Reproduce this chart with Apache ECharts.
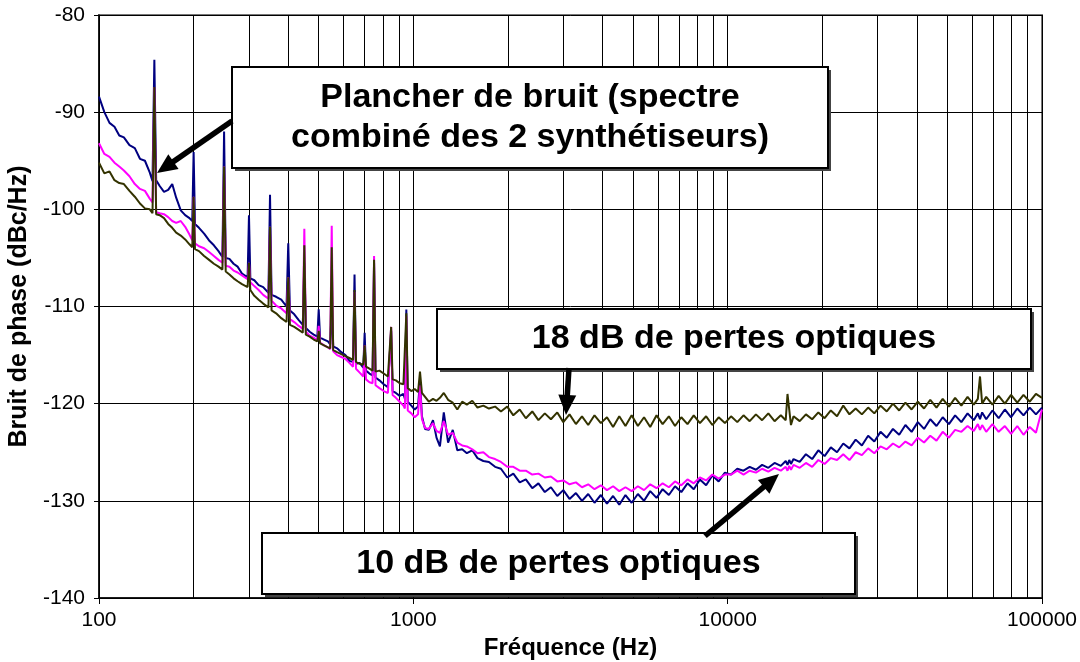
<!DOCTYPE html>
<html>
<head>
<meta charset="utf-8">
<title>Bruit de phase</title>
<script src="https://cdn.jsdelivr.net/npm/echarts@6/dist/echarts.min.js"></script>
<style>
  html, body { margin: 0; padding: 0; background: #fff; }
  #chart { width: 1080px; height: 662px; }
</style>
</head>
<body>
<div id="chart"></div>
<script>
// frequency grid (Hz) where the curves were read
var freqs = [
  100, 104, 108, 112, 116, 120, 125, 130, 135, 140,
  145, 148, 150, 152, 156, 161, 166, 171, 176, 182,
  188, 194, 198, 200, 202, 208, 216, 224, 232, 240,
  247, 250, 253, 260, 268, 276, 285, 297, 300, 303,
  312, 322, 333, 346, 350, 354, 366, 380, 395, 400,
  405, 418, 432, 445, 450, 455, 468, 482, 495, 500,
  505, 520, 535, 544, 550, 556, 572, 590, 608, 626,
  643, 650, 657, 675, 693, 700, 707, 725, 742, 750,
  758, 780, 805, 830, 841, 850, 859, 880, 905, 930,
  940, 950, 960, 985,
  1010, 1035, 1050, 1065, 1090, 1120, 1155, 1185, 1215, 1250,
  1290, 1335, 1380, 1430, 1480, 1540, 1600, 1670, 1740, 1820,
  1900, 1990, 2080, 2180, 2280, 2390, 2500, 2620, 2740, 2870,
  3000, 3140, 3290, 3440, 3600, 3770, 3950, 4130, 4320, 4520,
  4730, 4950, 5180, 5420, 5670, 5940, 6210, 6500, 6800, 7120,
  7450, 7800, 8160, 8540, 8940, 9360, 9800,
  10250, 10730, 11230, 11750, 12300, 12870, 13470, 14100, 14760, 15300,
  15500, 15700, 15900, 16200, 16950, 17740, 18570, 19430, 20340, 21290,
  22280, 23320, 24400, 25540, 26730, 27980, 29280, 30640, 32070, 33560,
  35130, 36770, 38480, 40270, 42150, 44110, 46170, 48320, 50570, 52920,
  55390, 57970, 60670, 62500, 63500, 64500, 66450, 69550, 72790, 76180,
  79730, 83440, 87330, 91400, 95660, 100000
];

// bleu marine
var navyValues = [
  -88.4, -90.0, -91.1, -91.5, -92.4, -92.6, -93.4, -93.7, -94.8, -95.0,
  -96.2, -97.1, -84.6, -97.0, -97.6, -98.2, -98.0, -97.4, -98.8, -100.1,
  -100.6, -100.9, -101.2, -94.1, -101.5, -101.9, -102.5, -103.2, -103.7, -104.3,
  -104.9, -92.0, -105.0, -105.1, -105.6, -105.9, -106.6, -107.0, -100.6, -107.1,
  -107.3, -107.8, -108.0, -108.6, -98.5, -108.8, -109.0, -109.3, -110.0, -103.5,
  -110.4, -110.8, -111.4, -111.9, -105.5, -112.2, -112.6, -112.9, -113.1, -110.3,
  -113.2, -113.4, -113.6, -113.9, -110.0, -114.1, -114.3, -114.7, -115.0, -115.6,
  -115.7, -106.7, -115.9, -115.8, -116.3, -112.7, -116.6, -116.9, -117.1, -105.5,
  -117.3, -117.6, -118.0, -118.3, -118.5, -112.5, -118.7, -118.9, -119.2, -119.0,
  -119.5, -110.3, -119.8, -120.2,
  -120.6, -120.3, -117.6, -121.3, -122.6, -122.7, -121.7, -123.5, -124.4, -120.9,
  -124.0, -122.7, -124.8, -124.7, -125.1, -124.8, -125.6, -125.9, -126.0, -126.5,
  -126.7, -127.6, -127.2, -128.1, -127.8, -128.7, -128.2, -129.1, -128.6, -129.5,
  -128.9, -129.8, -129.2, -130.0, -129.3, -130.2, -129.4, -130.3, -129.5, -130.4,
  -129.4, -130.2, -129.3, -130.0, -129.0, -129.7, -128.8, -129.4, -128.5, -129.1,
  -128.2, -128.8, -127.8, -128.4, -127.4, -128.0, -127.1,
  -127.3, -126.7, -126.9, -126.5, -126.8, -126.3, -126.6, -126.1, -126.4, -125.9,
  -126.3, -125.8, -126.2, -125.7, -126.0, -125.2, -125.7, -124.8, -125.4, -124.5,
  -125.0, -124.1, -124.6, -123.7, -124.3, -123.3, -123.9, -122.9, -123.5, -122.6,
  -123.2, -122.2, -122.9, -121.9, -122.6, -121.6, -122.3, -121.4, -122.1, -121.2,
  -121.9, -121.0, -121.7, -121.0, -121.6, -120.9, -121.6, -120.7, -121.5, -120.6,
  -121.4, -120.5, -121.2, -120.4, -121.1, -120.4
];

// magenta
var magentaValues = [
  -93.2, -94.3, -94.6, -95.2, -95.6, -96.0, -96.6, -97.4, -97.9, -98.1,
  -98.9, -99.3, -87.4, -100.3, -100.4, -100.5, -100.8, -101.2, -101.4, -101.2,
  -101.8, -102.6, -103.2, -98.7, -103.5, -103.8, -104.0, -104.4, -104.8, -105.2,
  -105.5, -95.6, -105.8, -105.9, -106.3, -106.5, -106.8, -107.2, -105.5, -107.5,
  -107.9, -108.3, -108.8, -109.2, -101.8, -109.4, -109.9, -110.2, -110.7, -107.0,
  -111.3, -111.6, -112.0, -112.3, -102.0, -112.6, -113.0, -113.2, -113.5, -112.0,
  -113.7, -114.0, -114.2, -114.4, -101.7, -114.6, -115.0, -115.2, -115.4, -115.8,
  -116.2, -108.5, -116.4, -116.8, -117.2, -114.0, -117.5, -117.8, -117.9, -104.8,
  -118.1, -118.4, -118.7, -118.9, -119.0, -112.1, -119.1, -119.4, -119.8, -120.2,
  -120.5, -111.0, -120.7, -121.0,
  -121.4, -121.1, -118.1, -121.6, -122.5, -122.6, -122.0, -122.8, -123.0, -121.8,
  -123.2, -123.0, -124.0, -124.3, -124.4, -124.7, -125.1, -125.0, -125.5, -125.7,
  -126.0, -126.5, -126.5, -126.9, -126.9, -127.3, -127.2, -127.6, -127.5, -128.0,
  -127.9, -128.3, -128.1, -128.6, -128.3, -128.8, -128.4, -128.9, -128.5, -129.0,
  -128.6, -129.0, -128.5, -128.9, -128.3, -128.7, -128.2, -128.6, -128.0, -128.4,
  -127.8, -128.2, -127.6, -127.9, -127.3, -127.7, -127.3,
  -127.3, -126.9, -127.3, -126.9, -127.1, -126.7, -127.0, -126.6, -126.9, -126.5,
  -126.9, -126.4, -126.8, -126.3, -126.6, -126.1, -126.5, -125.8, -126.2, -125.6,
  -125.8, -125.2, -125.8, -125.0, -125.3, -124.6, -125.1, -124.4, -124.7, -124.1,
  -124.5, -123.9, -124.3, -123.5, -124.0, -123.3, -123.8, -122.9, -123.5, -122.7,
  -122.9, -122.3, -122.8, -122.1, -122.7, -122.2, -122.9, -122.1, -122.9, -122.3,
  -123.1, -122.3, -123.2, -122.4, -123.0, -120.6
];

// vert olive foncé
var oliveValues = [
  -95.2, -96.3, -96.1, -97.0, -97.3, -97.4, -98.1, -98.7, -99.4, -99.9,
  -100.0, -100.4, -87.4, -100.5, -100.6, -100.9, -101.5, -101.9, -102.4, -102.7,
  -103.1, -103.6, -103.9, -98.7, -104.1, -104.3, -104.8, -105.2, -105.6, -105.9,
  -106.2, -95.6, -106.4, -106.7, -107.1, -107.4, -107.7, -108.0, -105.5, -108.3,
  -108.9, -109.3, -109.7, -110.1, -101.8, -110.4, -110.7, -111.2, -111.6, -107.0,
  -111.9, -112.1, -112.4, -112.7, -103.7, -112.9, -113.1, -113.4, -113.6, -112.5,
  -113.8, -114.0, -114.2, -114.3, -103.9, -114.5, -114.7, -114.9, -115.1, -115.3,
  -115.5, -108.3, -115.7, -115.9, -116.0, -114.0, -116.2, -116.4, -116.6, -105.2,
  -116.7, -116.6, -116.9, -117.2, -117.4, -112.1, -117.5, -117.6, -117.9, -118.0,
  -118.2, -110.7, -118.4, -118.7,
  -118.5, -118.8, -116.7, -118.9, -119.3, -119.8, -119.5, -119.7, -119.4, -118.9,
  -119.6, -119.9, -120.6, -119.8, -120.1, -119.7, -120.4, -120.2, -120.5, -120.3,
  -120.8, -120.3, -121.2, -120.6, -121.5, -120.8, -121.7, -121.0, -121.6, -120.9,
  -121.9, -121.1, -122.1, -121.3, -122.2, -121.2, -122.0, -121.4, -122.4, -121.3,
  -122.3, -121.2, -122.3, -121.4, -122.4, -121.2, -122.1, -121.3, -122.3, -121.4,
  -122.1, -121.2, -122.0, -121.3, -122.2, -121.4, -122.0,
  -121.3, -121.9, -121.2, -121.8, -121.1, -121.7, -121.0, -121.8, -121.2, -121.7,
  -119.0, -118.8, -122.2, -121.3, -121.8, -121.1, -121.6, -120.9, -121.5, -120.7,
  -121.3, -120.2, -121.1, -120.5, -121.1, -120.4, -121.0, -120.2, -120.8, -120.0,
  -120.7, -119.9, -120.6, -119.8, -120.5, -119.6, -120.4, -119.5, -120.3, -119.4,
  -120.2, -119.3, -120.1, -119.5, -117.2, -120.0, -119.3, -120.1, -119.2, -120.0,
  -119.1, -119.9, -119.1, -119.8, -119.0, -119.4
];

// lignes verticales secondaires (2..9 x 10^n)
var minorFreqs = [
  200, 300, 400, 500, 600, 700, 800, 900,
  2000, 3000, 4000, 5000, 6000, 7000, 8000, 9000,
  20000, 30000, 40000, 50000, 60000, 70000, 80000, 90000
];

var FONT = '"Liberation Sans", Arial, sans-serif';

function pairs(values) {
  return freqs.map(function (f, i) { return [f, values[i]]; });
}

// boite avec ombre + texte
function labelBox(x, y, w, h, text) {
  return [
    { type: 'rect', shape: { x: x + 3, y: y + 3, width: w, height: h }, style: { fill: '#444' }, z: 20 },
    { type: 'rect', shape: { x: x, y: y, width: w, height: h }, style: { fill: '#fff', stroke: '#000', lineWidth: 2 }, z: 21 },
    {
      type: 'text', z: 22,
      style: {
        x: x + w / 2, y: y + h / 2, text: text,
        font: 'bold 34px ' + FONT, fill: '#000',
        textAlign: 'center', textVerticalAlign: 'middle', verticalAlign: 'middle',
        lineHeight: 40
      }
    }
  ];
}

// fleche noire
function arrow(x1, y1, x2, y2) {
  var dx = x2 - x1, dy = y2 - y1;
  var len = Math.sqrt(dx * dx + dy * dy);
  var ux = dx / len, uy = dy / len;
  var nx = -uy, ny = ux;
  var head = 20, half = 9;
  var bx = x2 - ux * head, by = y2 - uy * head;
  return [
    {
      type: 'line', z: 23,
      shape: { x1: x1, y1: y1, x2: bx + ux * 4, y2: by + uy * 4 },
      style: { stroke: '#000', lineWidth: 5.5 }
    },
    {
      type: 'polygon', z: 23,
      shape: { points: [[x2, y2], [bx + nx * half, by + ny * half], [bx - nx * half, by - ny * half]] },
      style: { fill: '#000' }
    }
  ];
}

var graphics = []
  .concat(arrow(232, 121, 157, 173))
  .concat(arrow(569, 368, 566, 415))
  .concat(arrow(705, 536, 779, 474))
  .concat(labelBox(232, 67, 596, 101, 'Plancher de bruit (spectre\ncombiné des 2 synthétiseurs)'))
  .concat(labelBox(437, 309, 594, 60, '18 dB de pertes optiques'))
  .concat(labelBox(262, 533, 593, 61, '10 dB de pertes optiques'));

var option = {
  animation: false,
  backgroundColor: '#fff',
  textStyle: { fontFamily: FONT },
  grid: {
    left: 99, right: 38, top: 15, bottom: 64,
    show: true, borderColor: '#777', borderWidth: 2,
    outerBoundsMode: 'none'
  },
  xAxis: {
    type: 'log',
    logBase: 10,
    min: 100,
    max: 100000,
    name: 'Fréquence (Hz)',
    nameLocation: 'middle',
    nameGap: 34,
    nameTextStyle: { fontWeight: 'bold', fontSize: 24, color: '#000', fontFamily: FONT },
    axisLine: { lineStyle: { color: '#000', width: 1.5 } },
    axisTick: { show: true, length: 6, lineStyle: { color: '#000' } },
    axisLabel: {
      fontSize: 21, color: '#000', margin: 12, fontFamily: FONT,
      formatter: function (v) { return String(Math.round(v)); }
    },
    splitLine: { show: true, lineStyle: { color: '#000', width: 1 } },
    minorTick: { show: false },
    minorSplitLine: { show: false }
  },
  yAxis: {
    type: 'value',
    min: -140,
    max: -80,
    interval: 10,
    name: 'Bruit de phase (dBc/Hz)',
    nameLocation: 'middle',
    nameGap: 62,
    nameTextStyle: { fontWeight: 'bold', fontSize: 25, color: '#000', fontFamily: FONT },
    axisLine: { show: true, lineStyle: { color: '#000', width: 1.5 } },
    axisTick: { show: true, length: 5, lineStyle: { color: '#000' } },
    axisLabel: { fontSize: 21, color: '#000', margin: 14, fontFamily: FONT },
    splitLine: { show: true, lineStyle: { color: '#000', width: 1 } }
  },
  series: [
    {
      name: 'grille',
      type: 'line',
      data: [],
      silent: true,
      markLine: {
        silent: true,
        z: 1,
        symbol: 'none',
        animation: false,
        label: { show: false },
        emphasis: { disabled: true },
        lineStyle: { color: '#000', width: 1, type: 'solid' },
        data: minorFreqs.map(function (f) { return { xAxis: f }; })
      }
    },
    {
      name: 'bleu',
      type: 'line',
      z: 3,
      showSymbol: false,
      symbol: 'none',
      data: pairs(navyValues),
      lineStyle: { color: '#000080', width: 2 },
      itemStyle: { color: '#000080' }
    },
    {
      name: 'magenta',
      type: 'line',
      z: 4,
      showSymbol: false,
      symbol: 'none',
      data: pairs(magentaValues),
      lineStyle: { color: '#ff00ff', width: 2 },
      itemStyle: { color: '#ff00ff' }
    },
    {
      name: 'olive',
      type: 'line',
      z: 5,
      showSymbol: false,
      symbol: 'none',
      data: pairs(oliveValues),
      lineStyle: { color: '#333300', width: 2 },
      itemStyle: { color: '#333300' }
    }
  ],
  graphic: graphics
};

var chart = echarts.init(document.getElementById('chart'));
chart.setOption(option);
</script>
</body>
</html>
